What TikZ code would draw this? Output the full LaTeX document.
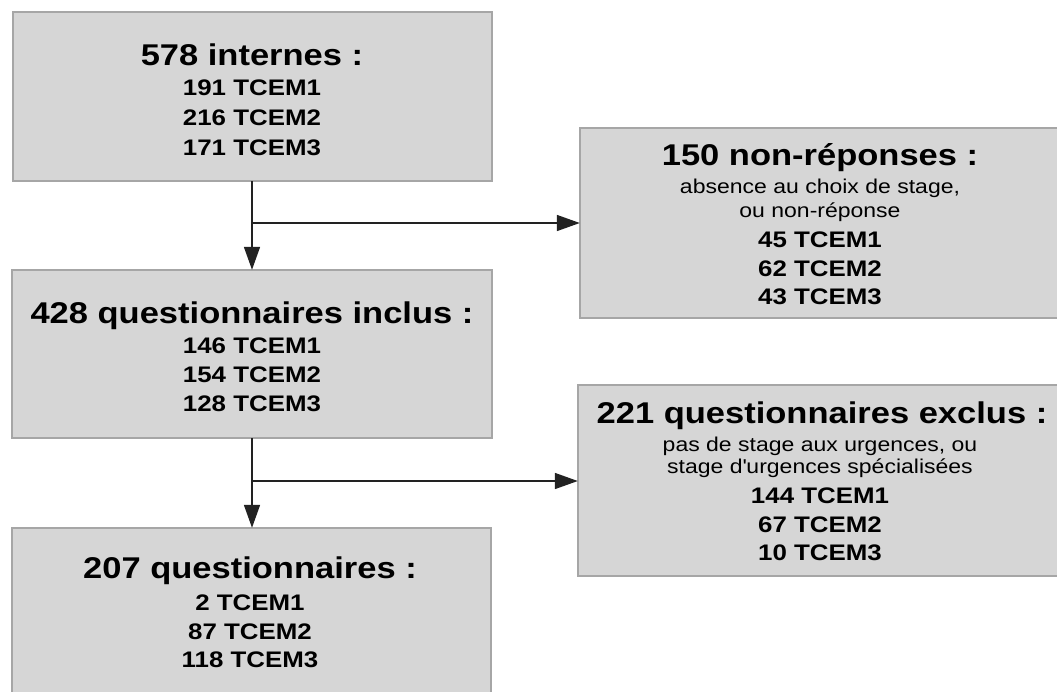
\documentclass[tikz,border=0pt]{standalone}
\usepackage{fontspec}
\setmainfont{Liberation Sans}[FakeStretch=1.15]
\usetikzlibrary{arrows.meta}
\definecolor{boxfill}{HTML}{D6D6D6}
\definecolor{boxline}{HTML}{A6A6A6}
\definecolor{arrline}{HTML}{222222}
\tikzset{
  box/.style={draw=boxline, line width=1.5pt, fill=boxfill},
  ttl/.style={anchor=base, inner sep=0pt, font=\fontsize{30}{30}\selectfont\bfseries},
  sub/.style={anchor=base, inner sep=0pt, font=\fontsize{22.5}{22.5}\selectfont\bfseries},
  sml/.style={anchor=base, inner sep=0pt, font=\fontsize{20}{20}\selectfont},
  arr/.style={draw=arrline, line width=1.6pt, -{Triangle[length=23pt,width=16pt]}},
}
\begin{document}
\begin{tikzpicture}[x=1pt,y=-1pt]
\useasboundingbox (0,0) rectangle (1057,691);
\clip (0,0) rectangle (1057,691);
% boxes
\draw[box] (13,12) rectangle (492,181);
\node[inner sep=0pt, minimum width=479pt, minimum height=169pt] (b1) at (252.5,96.5) {};
\draw[box] (12,270) rectangle (492,438);
\node[inner sep=0pt, minimum width=480pt, minimum height=168pt] (b2) at (252,354) {};
\draw[box] (12,528) rectangle (491,720);
\node[inner sep=0pt, minimum width=479pt, minimum height=192pt] (b3) at (251.5,624) {};
\draw[box] (580,128) rectangle (1062,318);
\node[inner sep=0pt, minimum width=482pt, minimum height=190pt] (r1) at (821,223) {};
\draw[box] (578,385) rectangle (1062,576);
\node[inner sep=0pt, minimum width=484pt, minimum height=191pt] (r2) at (820,480.5) {};
% texts box 1
\node[ttl] (t1) at (252,65) {578 internes :};
\node[sub] (t1a) at (252,95) {191 TCEM1};
\node[sub] (t1b) at (252,125) {216 TCEM2};
\node[sub] (t1c) at (252,155) {171 TCEM3};
% box 2
\node[ttl] (t2) at (252,323) {428 questionnaires inclus :};
\node[sub] (t2a) at (252,353) {146 TCEM1};
\node[sub] (t2b) at (252,382) {154 TCEM2};
\node[sub] (t2c) at (252,411) {128 TCEM3};
% box 3
\node[ttl] (t3) at (250,578) {207 questionnaires :};
\node[sub] (t3a) at (250,610) {2 TCEM1};
\node[sub] (t3b) at (250,639) {87 TCEM2};
\node[sub] (t3c) at (250,667) {118 TCEM3};
% right box 1
\node[ttl] (u1) at (820,165) {150 non-réponses :};
\node[sml] (u1a) at (820,193) {absence au choix de stage,};
\node[sml] (u1b) at (820,217) {ou non-réponse};
\node[sub] (u1c) at (820,247) {45 TCEM1};
\node[sub] (u1d) at (820,276) {62 TCEM2};
\node[sub] (u1e) at (820,304) {43 TCEM3};
% right box 2
\node[ttl] (u2) at (822,423) {221 questionnaires exclus :};
\node[sml] (u2a) at (820,451) {pas de stage aux urgences, ou};
\node[sml] (u2b) at (820,473) {stage d\textquotesingle urgences spécialisées};
\node[sub] (u2c) at (820,503) {144 TCEM1};
\node[sub] (u2d) at (820,532) {67 TCEM2};
\node[sub] (u2e) at (820,560) {10 TCEM3};
% connectors
\coordinate (j1) at (252,223);
\coordinate (j2) at (252,481);
\draw[arr] (b1.south -| j1) -- (b2.north -| j1);
\draw[arr] (j1) -- (j1 -| r1.west);
\draw[arr] (b2.south -| j2) -- (b3.north -| j2);
\draw[arr] (j2) -- (j2 -| r2.west);
\end{tikzpicture}
\end{document}
